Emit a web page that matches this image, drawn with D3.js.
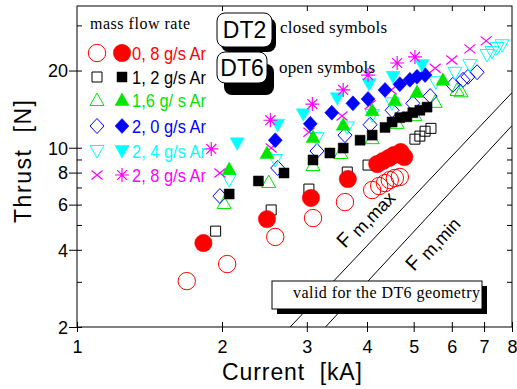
<!DOCTYPE html>
<html><head><meta charset="utf-8">
<script src="https://cdn.jsdelivr.net/npm/d3@7"></script>
<style>body{margin:0;background:#fff}svg{display:block}</style>
</head><body>
<svg id="c" width="517" height="389"></svg>
<script>
// ---------- data: [current kA, thrust N] ----------
const seriesLabels = ["0, 8 g/s Ar", "1, 2 g/s Ar", "1,6 g/ s Ar", "2, 0 g/s Ar", "2, 4 g/s Ar", "2, 8 g/s Ar"];
const seriesColors = ["#ff0000", "#000000", "#00e600", "#0000ff", "#00ffff", "#ff00ff"];
const closedShapes = ["circle", "square", "triUp", "diamond", "triDown", "aster"];
const openShapes   = ["circle", "square", "triUp", "diamond", "triDown", "cross"];

// DT2 (closed symbols)
const dt2_08 = [[1.83,4.25],[2.48,5.27],[3.06,6.37],[3.65,7.55],[4.20,8.64],[4.32,8.88],[4.44,9.12],[4.55,9.37],[4.70,9.62],[4.78,9.2]];
const dt2_12 = [[2.07,6.6],[2.38,7.42],[2.69,7.97],[3.09,8.96],[3.35,9.54],[3.57,9.97],[3.87,10.7],[4.10,11.2],[4.36,12.0],[4.51,12.6],[4.68,13.1],[4.84,13.2],[4.98,13.7],[5.15,14.0],[5.33,14.4]];
const dt2_16 = [[2.07,8.26],[2.48,9.54],[3.09,11.0],[3.57,12.3],[4.10,14.0],[4.57,15.3],[5.08,16.5],[5.75,18.4]];
const dt2_20 = [[2.58,10.7],[3.05,12.4],[3.38,13.7],[3.74,14.9],[4.02,15.5],[4.36,16.8],[4.68,17.7],[4.91,18.4],[5.08,18.9],[5.28,19.2]];
const dt2_24 = [[2.15,10.4],[2.61,12.3],[2.95,13.5],[3.47,15.6],[4.04,17.7],[4.53,18.9],[5.20,21.0]];
const dt2_28 = [[1.90,9.89],[2.52,12.8],[3.08,14.8],[3.57,16.8],[4.02,19.2],[4.62,21.4],[5.03,22.6]];

// DT6 (open symbols)
const dt6_08 = [[1.69,3.02],[2.05,3.52],[2.58,4.49],[3.09,5.32],[3.60,6.14],[4.10,6.84],[4.24,7.09],[4.36,7.28],[4.46,7.48],[4.57,7.62],[4.68,7.69]];
const dt6_12 = [[1.94,4.73],[2.53,5.72],[3.03,6.90],[3.64,8.04],[4.02,8.56],[5.03,10.8],[5.15,11.1],[5.28,11.6],[5.43,11.9]];
const dt6_16 = [[2.02,6.09],[2.50,7.35],[3.09,8.56],[3.53,9.54],[4.10,10.9],[4.62,12.5],[5.03,13.4],[5.54,15.1],[6.15,16.8],[6.27,16.6]];
const dt6_20 = [[1.98,6.48],[2.61,8.34],[3.15,9.71],[3.60,11.2],[4.06,12.3],[4.51,14.0],[4.98,14.9],[5.41,15.9],[6.03,17.6],[6.33,18.4],[6.48,18.9],[6.77,19.7]];
const dt6_24 = [[2.07,7.48],[2.58,8.96],[3.15,10.9],[3.64,12.0],[4.10,13.4],[4.51,14.9],[5.56,18.0],[6.09,19.6],[6.54,21.0],[7.10,23.0],[7.27,23.6],[7.45,24.5],[7.63,25.1]];
const dt6_28 = [[1.98,7.97],[2.53,9.97],[3.03,11.5],[3.55,13.3],[4.06,14.7],[4.49,16.8],[5.54,20.4],[6.00,22.0],[6.54,24.3],[7.07,26.1]];

// magnetic thrust limits
const fmMaxLine = [[2.77,2.0],[8.0,16.4]];
const fmMinLine = [[3.28,2.0],[8.0,12.2]];
const fmMaxLabelAt = [3.60,4.03];
const fmMinLabelAt = [5.01,3.28];

// axes
const xDomain = [1, 8];
const yDomain = [2, 35.7];
const xTickLabels = [1,2,3,4,5,6,7,8];
const yTickLabels = [2,4,6,8,10,20];
const yMinorTicks = [3,5,7,9,30];

// ---------- drawing ----------
const L = 77, R = 512, T = 6, B = 327;
const x = d3.scaleLog().domain(xDomain).range([L, R]);
const y = d3.scaleLog().domain(yDomain).range([B, T]);
const svg = d3.select("#c");
const SANS = "'Liberation Sans', Arial, sans-serif";
const SERIF = "'Liberation Serif', 'Times New Roman', serif";
const NB = "\u00a0";

function symPath(kind) {
  const p = d3.path();
  switch (kind) {
    case "circle": p.arc(0, 0, 8.7, 0, 2 * Math.PI); p.closePath(); break;
    case "square": p.rect(-5, -5, 10, 10); break;
    case "triUp": p.moveTo(0, -7); p.lineTo(7, 5.5); p.lineTo(-7, 5.5); p.closePath(); break;
    case "triDown": p.moveTo(0, 7); p.lineTo(7, -5.5); p.lineTo(-7, -5.5); p.closePath(); break;
    case "diamond": p.moveTo(0, -7.5); p.lineTo(7, 0); p.lineTo(0, 7.5); p.lineTo(-7, 0); p.closePath(); break;
    case "aster":
      for (let k = 0; k < 4; k++) { const a = k * Math.PI / 4; p.moveTo(-7 * Math.cos(a), -7 * Math.sin(a)); p.lineTo(7 * Math.cos(a), 7 * Math.sin(a)); }
      break;
    case "cross": p.moveTo(-5.5, -4.5); p.lineTo(5.5, 4.5); p.moveTo(-5.5, 4.5); p.lineTo(5.5, -4.5); break;
  }
  return p.toString();
}
function styleSym(sel, kind, color, filled) {
  if (kind === "aster" || kind === "cross") sel.attr("fill", "none").attr("stroke", color).attr("stroke-width", 1.2);
  else if (filled) sel.attr("fill", color).attr("stroke", color).attr("stroke-width", 0.5);
  else sel.attr("fill", "none").attr("stroke", color).attr("stroke-width", 1);
}

// clip
svg.append("clipPath").attr("id", "plot").append("rect").attr("x", L).attr("y", T).attr("width", R - L).attr("height", B - T);

// F lines
const line = d3.line().x(d => x(d[0])).y(d => y(d[1]));
[fmMaxLine, fmMinLine].forEach(l => svg.append("path").attr("d", line(l)).attr("clip-path", "url(#plot)")
  .attr("fill", "none").attr("stroke", "#000").attr("stroke-width", 1));
function angleOf(l) { return Math.atan2(y(l[1][1]) - y(l[0][1]), x(l[1][0]) - x(l[0][0])) * 180 / Math.PI; }
function fLabel(pos, l, sub) {
  const t = svg.append("text").attr("transform", `translate(${x(pos[0])},${y(pos[1])}) rotate(${angleOf(l)})`)
    .attr("font-family", SANS).attr("font-size", 20).attr("fill", "#000");
  t.append("tspan").text("F" + NB);
  t.append("tspan").attr("font-size", 18).attr("dy", 3).text(sub);
}
fLabel(fmMaxLabelAt, fmMaxLine, "m,max");
fLabel(fmMinLabelAt, fmMinLine, "m,min");

// "valid" box
svg.append("rect").attr("x", 277).attr("y", 286).attr("width", 210).attr("height", 28).attr("fill", "#000");
svg.append("rect").attr("x", 272).attr("y", 281).attr("width", 210).attr("height", 28).attr("fill", "#fff").attr("stroke", "#000");
svg.append("text").attr("x", 293).attr("y", 298).attr("font-family", SERIF).attr("font-size", 16)
  .attr("textLength", 187).attr("lengthAdjust", "spacing").text("valid for the DT6 geometry");

// frame & axes
svg.append("rect").attr("x", L).attr("y", T).attr("width", R - L).attr("height", B - T).attr("fill", "none").attr("stroke", "#000");
const axB = svg.append("g").attr("transform", `translate(0,${B})`).call(d3.axisBottom(x).tickValues(xTickLabels).tickFormat(d3.format("d")).tickSize(5).tickPadding(8));
const axBin = svg.append("g").attr("transform", `translate(0,${B})`).call(d3.axisTop(x).tickValues(xTickLabels).tickFormat("").tickSize(5));
const axT = svg.append("g").attr("transform", `translate(0,${T})`).call(d3.axisBottom(x).tickValues(xTickLabels.slice(1, 7)).tickFormat("").tickSize(5));
const axL = svg.append("g").attr("transform", `translate(${L},0)`).call(d3.axisLeft(y).tickValues(yTickLabels).tickFormat(d3.format("d")).tickSize(8).tickPadding(1));
const axLin = svg.append("g").attr("transform", `translate(${L},0)`).call(d3.axisRight(y).tickValues(yTickLabels.concat(yMinorTicks)).tickFormat("").tickSize(5));
const axR = svg.append("g").attr("transform", `translate(${R},0)`).call(d3.axisLeft(y).tickValues(yTickLabels.slice(1).concat(yMinorTicks)).tickFormat("").tickSize(5));
[axB, axBin, axT, axL, axLin, axR].forEach(g => {
  g.select(".domain").remove();
  g.selectAll("line").attr("stroke", "#000");
  g.selectAll("text").attr("font-family", SANS).attr("font-size", 18).attr("fill", "#000");
});
axL.selectAll("text").attr("dy", "0.35em");

svg.append("text").attr("x", 222).attr("y", 380).attr("font-family", SANS).attr("font-size", 23)
  .attr("textLength", 140).attr("lengthAdjust", "spacing").text("Current" + NB + NB + "[kA]");
svg.append("text").attr("transform", "translate(31,223) rotate(-90)").attr("font-family", SANS).attr("font-size", 23)
  .attr("textLength", 123).attr("lengthAdjust", "spacing").text("Thrust" + NB + NB + "[N]");

// data
const dt2Data = [dt2_08, dt2_12, dt2_16, dt2_20, dt2_24, dt2_28];
const dt6Data = [dt6_08, dt6_12, dt6_16, dt6_20, dt6_24, dt6_28];
const gData = svg.append("g").attr("clip-path", "url(#plot)");
dt6Data.forEach((ser, i) => {
  gData.selectAll(null).data(ser).enter().append("path")
    .attr("d", symPath(openShapes[i])).attr("transform", d => `translate(${x(d[0])},${y(d[1])})`)
    .call(s => styleSym(s, openShapes[i], seriesColors[i], false));
});
dt2Data.forEach((ser, i) => {
  gData.selectAll(null).data(ser).enter().append("path")
    .attr("d", symPath(closedShapes[i])).attr("transform", d => `translate(${x(d[0])},${y(d[1])})`)
    .call(s => styleSym(s, closedShapes[i], seriesColors[i], true));
});

// legend
svg.append("text").attr("x", 90).attr("y", 29).attr("font-family", SERIF).attr("font-size", 16)
  .attr("textLength", 100).attr("lengthAdjust", "spacing").text("mass flow rate");
const legRowsY = [53, 77, 100, 126, 151, 175];
seriesLabels.forEach((lab, i) => {
  const ly = legRowsY[i];
  styleSym(svg.append("path").attr("d", symPath(openShapes[i])).attr("transform", `translate(97,${ly})`), openShapes[i], seriesColors[i], false);
  styleSym(svg.append("path").attr("d", symPath(closedShapes[i])).attr("transform", `translate(122,${ly})`), closedShapes[i], seriesColors[i], true);
  svg.append("text").attr("x", 132).attr("y", ly + 7).attr("font-family", SANS).attr("font-size", 19)
    .attr("fill", seriesColors[i]).attr("textLength", 74).attr("lengthAdjust", "spacingAndGlyphs").text(lab);
});

// DT boxes
function dtBox(bx, by, bw, bh, sx, sy, label) {
  svg.append("rect").attr("x", bx + sx).attr("y", by + sy).attr("width", bw).attr("height", bh).attr("rx", 8).attr("fill", "#000");
  svg.append("rect").attr("x", bx).attr("y", by).attr("width", bw).attr("height", bh).attr("rx", 8).attr("fill", "#fff").attr("stroke", "#000");
  svg.append("text").attr("x", bx + bw / 2).attr("y", by + bh / 2 + 8).attr("text-anchor", "middle")
    .attr("font-family", SANS).attr("font-size", 23).text(label);
}
dtBox(217, 13, 55, 34, 4, 5, "DT2");
dtBox(217, 52, 50, 31, 7, 12, "DT6");
svg.append("text").attr("x", 280).attr("y", 33).attr("font-family", SERIF).attr("font-size", 17)
  .attr("textLength", 107).attr("lengthAdjust", "spacing").text("closed symbols");
svg.append("text").attr("x", 279).attr("y", 73).attr("font-family", SERIF).attr("font-size", 17)
  .attr("textLength", 96).attr("lengthAdjust", "spacing").text("open symbols");
</script>
</body></html>
